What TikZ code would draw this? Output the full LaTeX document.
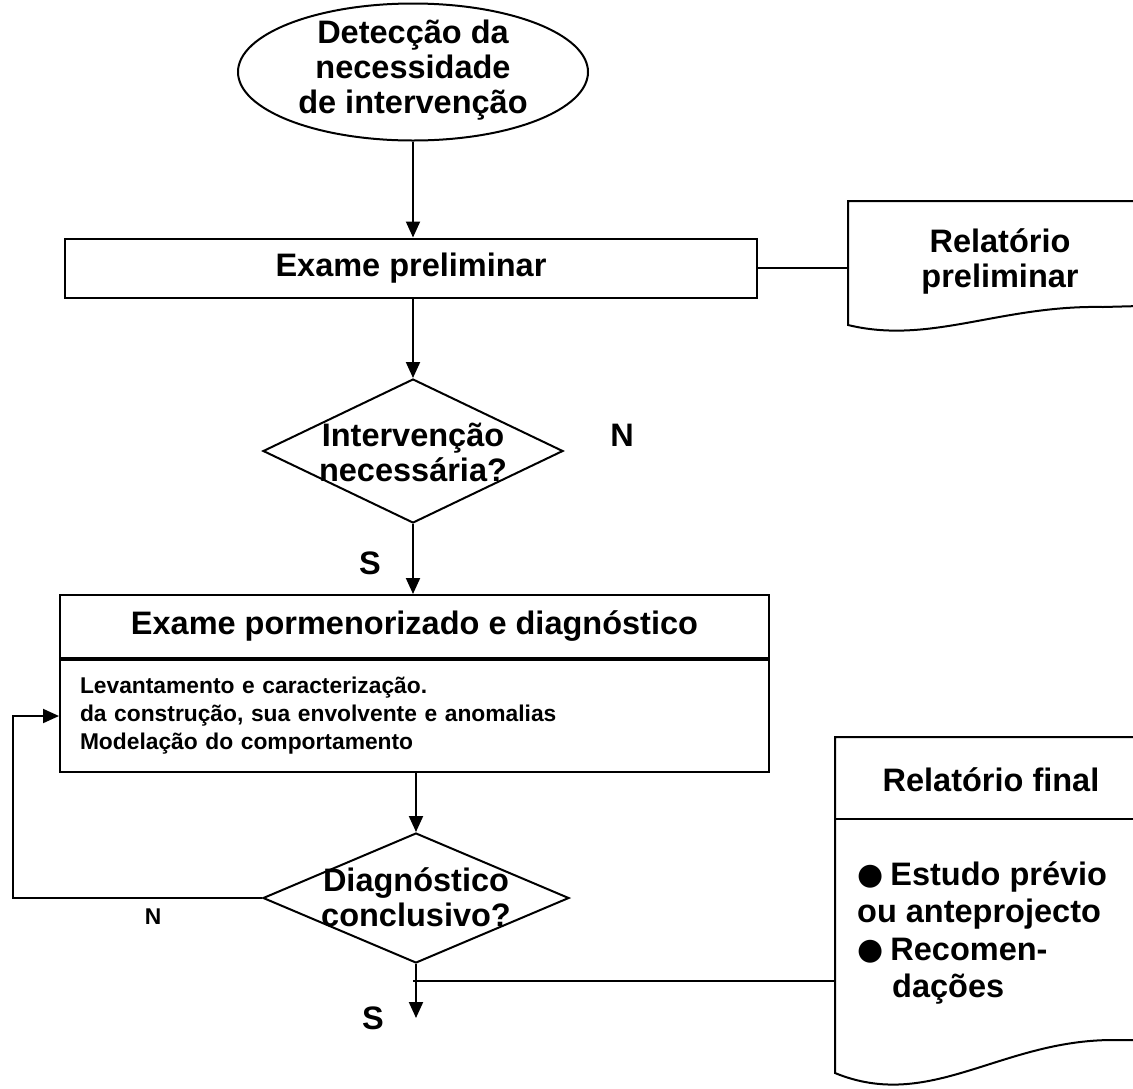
\documentclass[tikz,border=0pt]{standalone}
\usepackage{fontspec}
\setmainfont{Liberation Sans}
\newfontfamily\dejavu{DejaVu Sans}
\usetikzlibrary{arrows.meta,shapes.geometric}

\tikzset{
  bigtxt/.style={font=\fontsize{32.5}{35}\selectfont\bfseries, align=center, inner sep=0},
  smalltxt/.style={font=\fontsize{22.8}{28}\selectfont\bfseries},
  shapeline/.style={line width=2pt},
  startshape/.style={shapeline, draw, ellipse, minimum width=350, minimum height=137, inner sep=0},
  procbox/.style={shapeline, draw, rectangle, inner sep=0},
  decision/.style={shapeline, draw, diamond, inner sep=0},
  flow/.style={shapeline, -{Triangle[length=16pt,width=14pt]}},
}
\newcommand{\pontoitem}{\raisebox{0.5pt}{\dejavu\fontsize{30}{30}\selectfont ●}\hspace{-2pt}}

\begin{document}
\begin{tikzpicture}[x=1pt,y=-1pt]
  \useasboundingbox (0,0) rectangle (1133,1088);
  \clip (0,0) rectangle (1133,1088);

  % inicio
  \node[startshape] (detecao) at (413,72) {};
  \node[bigtxt] (detecao-txt) at (413,70) {Detecção da\\necessidade\\de intervenção};

  % exame preliminar e relatorio
  \node[procbox, bigtxt, minimum width=692, minimum height=59] (exprelim) at (411,268) {Exame preliminar};
  \draw[shapeline] (1140,201) -- (848,201) -- (848,325)
    .. controls (930,345) and (1000,305) .. (1103,307) -- (1140,306);
  \node[bigtxt] (relprelim) at (1000,261) {Relatório\\preliminar};
  \coordinate (relprelim-w) at (848,268);

  % decisao 1
  \node[decision, minimum width=300, minimum height=144] (intervencao) at (413,451) {};
  \node[bigtxt] (intervencao-txt) at (413,452) {Intervenção\\necessária?};
  \node[bigtxt] (n1) at (622,435) {N};
  \node[bigtxt] (s1) at (370,563) {S};

  % exame pormenorizado
  \node[procbox, bigtxt, minimum width=709, minimum height=63] (detalhe) at (414.5,626.5) {Exame pormenorizado e diagnóstico};
  \node[procbox, smalltxt, minimum width=709, minimum height=112, text width=669, inner xsep=20,
    align=left, anchor=north] (detalhe-corpo) at (detalhe.south)
    {Levantamento e caracterização.\\da construção, sua envolvente e anomalias\\Modelação do comportamento};

  % decisao 2
  \node[decision, minimum width=306, minimum height=130] (diagnostico) at (416,898) {};
  \node[bigtxt] (diagnostico-txt) at (416,897) {Diagnóstico\\conclusivo?};
  \node[smalltxt, inner sep=0] (n2) at (153,917) {N};
  \node[bigtxt] (s2) at (373,1018) {S};

  % relatorio final
  \draw[shapeline] (1140,737) -- (835,737) -- (835,1073)
    .. controls (930,1112) and (1000,1040) .. (1113,1040) -- (1140,1040);
  \draw[shapeline] (835,819) -- (1140,819);
  \node[bigtxt] (relfinal) at (991,780) {Relatório final};
  \node[bigtxt, align=left, anchor=north west, font=\fontsize{32.5}{37.5}\selectfont\bfseries] (relfinal-lista) at (857,861)
    {\pontoitem{} Estudo prévio\\ou anteprojecto\\\pontoitem{} Recomen-\\\hspace*{35pt}dações};
  \coordinate (relfinal-w) at (835,981);

  % ligacoes
  \coordinate (retorno) at (13,898);
  \coordinate (fim) at (416,1018);
  \coordinate (ramo) at (413,981);
  \draw[flow] (detecao.south) -- (detecao.south |- exprelim.north);
  \draw[shapeline] (exprelim.east) -- (relprelim-w);
  \draw[flow] (intervencao.north |- exprelim.south) -- (intervencao.north);
  \draw[flow] (intervencao.south) -- (intervencao.south |- detalhe.north);
  \draw[flow] (diagnostico.north |- detalhe-corpo.south) -- (diagnostico.north);
  \draw[flow] (diagnostico.west) -- (retorno) |- (detalhe-corpo.west);
  \draw[flow] (diagnostico.south) -- (fim);
  \draw[shapeline] (ramo) -- (relfinal-w);
\end{tikzpicture}
\end{document}
